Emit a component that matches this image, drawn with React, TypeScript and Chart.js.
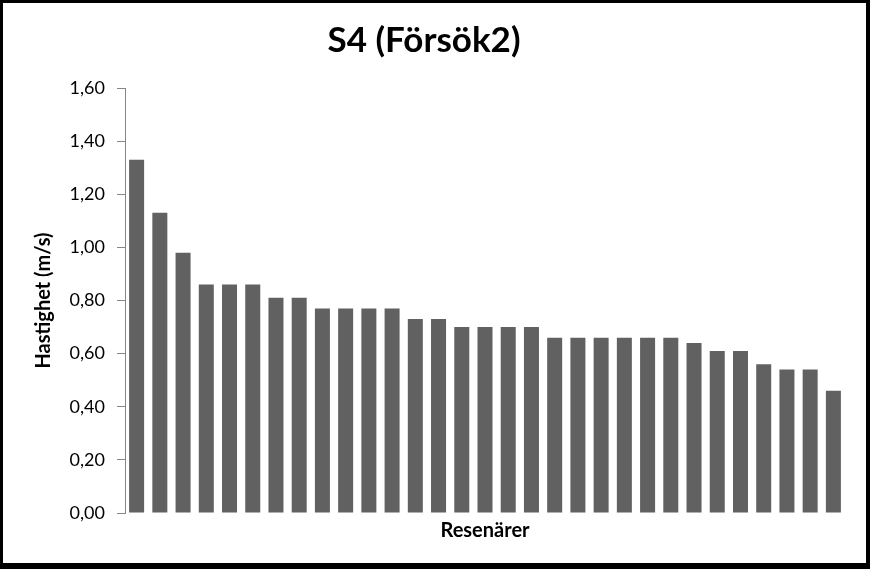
import { useEffect, useRef } from 'react';
import Chart from 'chart.js/auto';

const title = 'S4 (Försök2)';
const yTitle = 'Hastighet (m/s)';
const xTitle = 'Resenärer';

// speed per traveller (m/s), sorted high to low
const speeds = [
  1.33, 1.13, 0.98, 0.86, 0.86, 0.86, 0.81, 0.81, 0.77, 0.77, 0.77, 0.77, 0.73, 0.73, 0.7, 0.7,
  0.7, 0.7, 0.66, 0.66, 0.66, 0.66, 0.66, 0.66, 0.64, 0.61, 0.61, 0.56, 0.54, 0.54, 0.46,
];
const travellers = speeds.map((_, i) => `${i + 1}`);
const yTickLabels = ['0,00', '0,20', '0,40', '0,60', '0,80', '1,00', '1,20', '1,40', '1,60'];

const FONT = 'Lato, "Open Sans", sans-serif';

export default function App() {
  const canvasRef = useRef<HTMLCanvasElement>(null);
  const chartRef = useRef<Chart | null>(null);

  useEffect(() => {
    if (!canvasRef.current) return;
    if (chartRef.current) chartRef.current.destroy();

    chartRef.current = new Chart(canvasRef.current, {
      type: 'bar',
      data: {
        labels: travellers,
        datasets: [{
          data: speeds,
          backgroundColor: '#616161',
          borderWidth: 0,
          barPercentage: 0.646,
          categoryPercentage: 1,
        }],
      },
      options: {
        responsive: false,
        animation: false,
        layout: { padding: { top: 0, left: 0, right: 21, bottom: 0 } },
        plugins: {
          legend: { display: false },
          tooltip: { enabled: false },
          title: {
            display: true,
            text: title,
            color: '#000000',
            font: { family: FONT, size: 35, weight: 'bold' },
            padding: { top: 17, bottom: 26 },
          },
        },
        scales: {
          x: {
            grid: { display: false },
            border: { display: false },
            ticks: { display: false },
            title: {
              display: true,
              text: xTitle,
              color: '#000000',
              font: { family: FONT, size: 20, weight: 'bold' },
              padding: { top: 0, bottom: 20 },
            },
            afterFit: (scale) => { scale.height = 50; },
          },
          y: {
            min: 0,
            max: 1.6,
            grid: { drawOnChartArea: false, drawTicks: true, tickLength: 8, color: '#868686' },
            border: { display: true, color: '#868686' },
            ticks: {
              stepSize: 0.2,
              padding: 12,
              color: '#000000',
              font: { family: FONT, size: 18 },
              callback: (_v, i) => yTickLabels[i],
            },
            title: {
              display: true,
              text: yTitle,
              color: '#000000',
              font: { family: FONT, size: 20, weight: 'bold' },
              padding: { top: 29, bottom: 0 },
            },
            afterFit: (scale) => { scale.width = 122; },
          },
        },
      },
    });

    return () => {
      if (chartRef.current) {
        chartRef.current.destroy();
        chartRef.current = null;
      }
    };
  }, []);

  return (
    <div
      style={{
        position: 'fixed',
        left: 0,
        top: 0,
        width: 870,
        height: 569,
        boxSizing: 'border-box',
        borderStyle: 'solid',
        borderColor: '#000000',
        borderWidth: '3px 4px 6px 3px',
        background: '#ffffff',
      }}
    >
      <canvas ref={canvasRef} width={863} height={560} style={{ display: 'block' }} />
    </div>
  );
}
